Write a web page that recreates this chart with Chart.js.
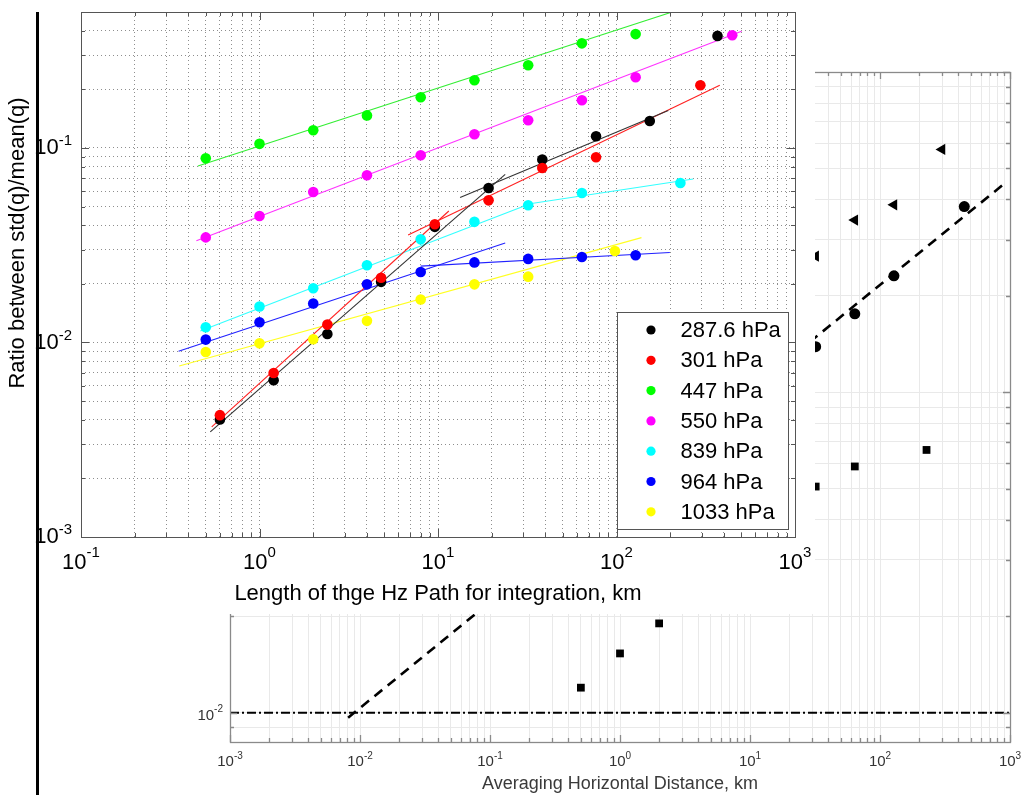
<!DOCTYPE html>
<html>
<head>
<meta charset="utf-8">
<script src="https://cdn.jsdelivr.net/npm/chart.js@4.4.0/dist/chart.umd.min.js"></script>
<style>
  body { margin: 0; background: #fff; }
  #page { position: relative; width: 1024px; height: 795px; overflow: hidden; }
  #bg { position: absolute; left: 0; top: 0; filter: blur(0.5px); }
  #main { position: absolute; left: 0; top: 0; }
  #rule { position: absolute; left: 36px; top: 12px; width: 3px; height: 783px; background: #000; }
</style>
</head>
<body>
<div id="page">
  <canvas id="bg" width="1024" height="795"></canvas>
  <canvas id="main" width="815" height="614"></canvas>
  <div id="rule"></div>
</div>
<script>
// path length (km) and std(q)/mean(q) for each pressure level
const len287 = [0.6, 1.2, 2.4, 4.8, 9.6, 19.2, 38.4, 76.8, 153.6, 368];
const ratio287 = [0.00402, 0.0064, 0.01106, 0.0205, 0.0393, 0.0623, 0.0872, 0.1149, 0.1376, 0.3767];
const len301 = [0.6, 1.2, 2.4, 4.8, 9.6, 19.2, 38.4, 76.8, 295];
const ratio301 = [0.00423, 0.00697, 0.01236, 0.0215, 0.0405, 0.0538, 0.0789, 0.0896, 0.21];
const len447 = [0.5, 1, 2, 4, 8, 16, 32, 64, 128, 300];
const ratio447 = [0.0885, 0.105, 0.1233, 0.147, 0.1823, 0.2229, 0.266, 0.345, 0.385, 0.573];
const len550 = [0.5, 1, 2, 4, 8, 16, 32, 64, 128, 445];
const ratio550 = [0.0347, 0.0447, 0.0594, 0.0724, 0.0917, 0.1176, 0.1388, 0.1759, 0.231, 0.38];
const len839 = [0.5, 1, 2, 4, 8, 16, 32, 64, 228];
const ratio839 = [0.01197, 0.01531, 0.019, 0.02494, 0.0339, 0.0417, 0.0508, 0.0587, 0.0661];
const len964 = [0.5, 1, 2, 4, 8, 16, 32, 64, 128];
const ratio964 = [0.01035, 0.0127, 0.01585, 0.0199, 0.02305, 0.0258, 0.0269, 0.0275, 0.02808];
const len1033 = [0.5, 1, 2, 4, 8, 16, 32, 98];
const ratio1033 = [0.00893, 0.0099, 0.01039, 0.01292, 0.01663, 0.0199, 0.0218, 0.02954];

// power-law fits, start and end of each segment
const fit287aX = [0.53, 23.8],  fit287aY = [0.00347, 0.0732];
const fit287bX = [13.3, 195],   fit287bY = [0.0557, 0.156];
const fit301aX = [0.54, 11.5],  fit301aY = [0.00368, 0.0474];
const fit301bX = [6.8, 379],    fit301bY = [0.0357, 0.21];
const fit447X = [0.452, 201],   fit447Y = [0.0808, 0.497];
const fit550X = [0.443, 502],   fit550Y = [0.0333, 0.398];
const fit839aX = [0.466, 32],   fit839aY = [0.01146, 0.0512];
const fit839bX = [32, 269],     fit839bY = [0.0515, 0.0693];
const fit964aX = [0.352, 23.8], fit964aY = [0.00901, 0.0325];
const fit964bX = [8, 199],      fit964bY = [0.0247, 0.029];
const fit1033X = [0.355, 138],  fit1033Y = [0.00757, 0.0346];

// reference curves of the averaging-distance panel
const slopeX = [0.0081, 916],  slopeY = [0.00965, 0.45];
const floorX = [0.001, 1000],  floorY = [0.01, 0.01];

const FONT = '"Liberation Sans", Arial, Helvetica, sans-serif';
const pts = (xs, ys) => xs.map((x, i) => ({ x: x, y: ys[i] }));
const isDecade = v => Math.abs(Math.log10(v) - Math.round(Math.log10(v))) < 1e-6;

// 1..9 x 10^n ticks so every grid line is drawn
function logTicks(scale) {
  const out = [];
  const lo = Math.floor(Math.log10(scale.min) + 1e-9);
  const hi = Math.ceil(Math.log10(scale.max) - 1e-9);
  for (let e = lo; e <= hi; e++) {
    for (let m = 1; m < 10; m++) {
      const v = parseFloat((m * Math.pow(10, e)).toPrecision(4));
      if (v >= scale.min * 0.9999 && v <= scale.max * 1.0001) out.push({ value: v });
    }
  }
  scale.ticks = out;
}

// "10" with a raised exponent
function drawPow(ctx, exp, x, y, align, base, sup, rise, color) {
  const s = String(exp);
  ctx.font = base + 'px ' + FONT;
  const w1 = ctx.measureText('10').width;
  ctx.font = sup + 'px ' + FONT;
  const w2 = ctx.measureText(s).width;
  const left = align === 'center' ? x - (w1 + w2) / 2 : x - (w1 + w2);
  ctx.fillStyle = color;
  ctx.textAlign = 'left';
  ctx.textBaseline = 'middle';
  ctx.font = base + 'px ' + FONT;
  ctx.fillText('10', left, y);
  ctx.font = sup + 'px ' + FONT;
  ctx.fillText(s, left + w1, y - rise);
}

function boxAndTicks(chart, major, minor, color, width) {
  const { ctx, chartArea: a, scales: { x, y } } = chart;
  ctx.save();
  ctx.strokeStyle = color;
  ctx.lineWidth = width;
  ctx.beginPath();
  x.ticks.forEach(t => {
    const px = Math.round(x.getPixelForValue(t.value)) + 0.5;
    const l = isDecade(t.value) ? major : minor;
    ctx.moveTo(px, a.bottom); ctx.lineTo(px, a.bottom - l);
    ctx.moveTo(px, a.top); ctx.lineTo(px, a.top + l);
  });
  y.ticks.forEach(t => {
    const py = Math.round(y.getPixelForValue(t.value)) + 0.5;
    const l = isDecade(t.value) ? major : minor;
    ctx.moveTo(a.left, py); ctx.lineTo(a.left + l, py);
    ctx.moveTo(a.right, py); ctx.lineTo(a.right - l, py);
  });
  ctx.stroke();
  ctx.strokeRect(Math.round(a.left) + 0.5, Math.round(a.top) + 0.5,
    Math.round(a.right - a.left), Math.round(a.bottom - a.top));
  ctx.restore();
}

const whiteBack = {
  id: 'whiteBack',
  beforeDraw(chart) {
    const ctx = chart.ctx;
    ctx.save();
    ctx.fillStyle = '#fff';
    ctx.fillRect(0, 0, chart.width, chart.height);
    ctx.restore();
  }
};

// ---------- averaging horizontal distance panel (behind) ----------
const bgDecor = {
  id: 'bgDecor',
  afterDraw(chart) {
    const { ctx, chartArea: a, scales: { x, y } } = chart;
    boxAndTicks(chart, 7, 4, '#8a8a8a', 1.3);
    x.ticks.filter(t => isDecade(t.value)).forEach(t => {
      drawPow(ctx, Math.round(Math.log10(t.value)), x.getPixelForValue(t.value), a.bottom + 20, 'center', 15, 10, 6, '#333');
    });
    y.ticks.filter(t => isDecade(t.value)).forEach(t => {
      drawPow(ctx, Math.round(Math.log10(t.value)), a.left - 7, y.getPixelForValue(t.value) + 3, 'right', 15, 10, 6, '#333');
    });
    ctx.save();
    ctx.fillStyle = '#3a3a3a';
    ctx.font = '18px ' + FONT;
    ctx.textAlign = 'center';
    ctx.textBaseline = 'middle';
    ctx.fillText('Averaging Horizontal Distance, km', (a.left + a.right) / 2, a.bottom + 42);
    ctx.restore();
  }
};

new Chart(document.getElementById('bg'), {
  type: 'scatter',
  data: {
    datasets: [
      { data: pts(len839, ratio839), pointStyle: 'rect', pointRadius: 5.5,
        pointBackgroundColor: '#000', pointBorderWidth: 0 },
      { data: pts(len550, ratio550), pointStyle: 'circle', pointRadius: 5.5,
        pointBackgroundColor: '#000', pointBorderWidth: 0 },
      { data: pts(len447, ratio447), pointStyle: 'triangle', pointRotation: -90, pointRadius: 6.5,
        pointBackgroundColor: '#000', pointBorderWidth: 0 },
      { data: pts(slopeX, slopeY), showLine: true, pointRadius: 0,
        borderColor: '#000', borderWidth: 2.6, borderDash: [10, 7] },
      { data: pts(floorX, floorY), showLine: true, pointRadius: 0,
        borderColor: '#000', borderWidth: 2, borderDash: [9, 3, 2, 3] }
    ]
  },
  options: {
    responsive: false,
    animation: false,
    events: [],
    layout: { padding: { left: 230, right: 14, top: 72, bottom: 53 } },
    plugins: { legend: { display: false }, tooltip: { enabled: false } },
    scales: {
      x: {
        type: 'logarithmic', min: 0.001, max: 1000,
        afterBuildTicks: logTicks,
        ticks: { display: false },
        grid: { color: '#e9e9e9', drawTicks: false },
        border: { display: false }
      },
      y: {
        type: 'logarithmic', min: 0.0081, max: 1,
        afterBuildTicks: logTicks,
        ticks: { display: false },
        grid: { color: '#e9e9e9', drawTicks: false },
        border: { display: false }
      }
    }
  },
  plugins: [whiteBack, bgDecor]
});

// ---------- path-length panel (front) ----------
const series = [
  { label: '287.6 hPa', color: '#000000', xs: len287, ys: ratio287, order: 1 },
  { label: '301 hPa', color: '#ff0000', xs: len301, ys: ratio301, order: 0 },
  { label: '447 hPa', color: '#00ff00', xs: len447, ys: ratio447, order: 2 },
  { label: '550 hPa', color: '#ff00ff', xs: len550, ys: ratio550, order: 2 },
  { label: '839 hPa', color: '#00ffff', xs: len839, ys: ratio839, order: 2 },
  { label: '964 hPa', color: '#0000ff', xs: len964, ys: ratio964, order: 2 },
  { label: '1033 hPa', color: '#ffff00', xs: len1033, ys: ratio1033, order: 2 }
];
const fits = [
  { xs: fit287aX, ys: fit287aY, color: '#333333' },
  { xs: fit287bX, ys: fit287bY, color: '#333333' },
  { xs: fit301aX, ys: fit301aY, color: '#ff2020' },
  { xs: fit301bX, ys: fit301bY, color: '#ff2020' },
  { xs: fit447X, ys: fit447Y, color: '#33ee33' },
  { xs: fit550X, ys: fit550Y, color: '#ff33ff' },
  { xs: fit839aX, ys: fit839aY, color: '#33ffff' },
  { xs: fit839bX, ys: fit839bY, color: '#33ffff' },
  { xs: fit964aX, ys: fit964aY, color: '#2222ff' },
  { xs: fit964bX, ys: fit964bY, color: '#2222ff' },
  { xs: fit1033X, ys: fit1033Y, color: '#ffff22' }
];

const mainDecor = {
  id: 'mainDecor',
  afterDraw(chart) {
    const { ctx, chartArea: a, scales: { x, y } } = chart;
    boxAndTicks(chart, 8, 4, '#555', 1);
    x.ticks.filter(t => isDecade(t.value)).forEach(t => {
      drawPow(ctx, Math.round(Math.log10(t.value)), x.getPixelForValue(t.value), a.bottom + 26, 'center', 22, 15, 10, '#000');
    });
    y.ticks.filter(t => isDecade(t.value)).forEach(t => {
      drawPow(ctx, Math.round(Math.log10(t.value)), a.left - 9, y.getPixelForValue(t.value), 'right', 22, 15, 7, '#000');
    });

    ctx.save();
    ctx.fillStyle = '#000';
    ctx.font = '22px ' + FONT;
    ctx.textAlign = 'center';
    ctx.textBaseline = 'middle';
    ctx.fillText('Length of thge Hz Path for integration, km', (a.left + a.right) / 2, a.bottom + 57);
    ctx.translate(18, 243);
    ctx.rotate(-Math.PI / 2);
    ctx.fillText('Ratio between std(q)/mean(q)', 0, 0);
    ctx.restore();

    // legend box in the lower right of the plot
    const bx = a.right - 177.5, by = a.bottom - 224.5, bw = 171, bh = 217;
    ctx.save();
    ctx.fillStyle = '#fff';
    ctx.fillRect(bx, by, bw, bh);
    ctx.strokeStyle = '#555';
    ctx.lineWidth = 1;
    ctx.strokeRect(bx, by, bw, bh);
    ctx.font = '22px ' + FONT;
    ctx.textAlign = 'left';
    ctx.textBaseline = 'middle';
    series.forEach((s, i) => {
      const cy = by + 17.5 + i * 30.3;
      ctx.fillStyle = s.color;
      ctx.beginPath();
      ctx.arc(bx + 33.5, cy, 4.6, 0, Math.PI * 2);
      ctx.fill();
      ctx.fillStyle = '#000';
      ctx.fillText(s.label, bx + 63, cy + 1);
    });
    ctx.restore();
  }
};

const mainSets = series.map(s => ({
  label: s.label,
  data: pts(s.xs, s.ys),
  order: s.order,
  showLine: false,
  pointRadius: 5.3,
  pointBackgroundColor: s.color,
  pointBorderColor: s.color,
  pointBorderWidth: 0
})).concat(fits.map(f => ({
  data: pts(f.xs, f.ys),
  order: 5,
  showLine: true,
  pointRadius: 0,
  borderColor: f.color,
  borderWidth: 1.1
})));

new Chart(document.getElementById('main'), {
  type: 'scatter',
  data: { datasets: mainSets },
  options: {
    responsive: false,
    animation: false,
    events: [],
    layout: { padding: { left: 81, right: 20, top: 12, bottom: 77 } },
    plugins: { legend: { display: false }, tooltip: { enabled: false } },
    scales: {
      x: {
        type: 'logarithmic', min: 0.1, max: 1000,
        afterBuildTicks: logTicks,
        ticks: { display: false },
        grid: { color: '#8e8e8e', drawTicks: false },
        border: { display: false, dash: [1, 3] }
      },
      y: {
        type: 'logarithmic', min: 0.001, max: 0.5,
        afterBuildTicks: logTicks,
        ticks: { display: false },
        grid: { color: '#8e8e8e', drawTicks: false },
        border: { display: false, dash: [1, 3] }
      }
    }
  },
  plugins: [whiteBack, mainDecor]
});
</script>
</body>
</html>
